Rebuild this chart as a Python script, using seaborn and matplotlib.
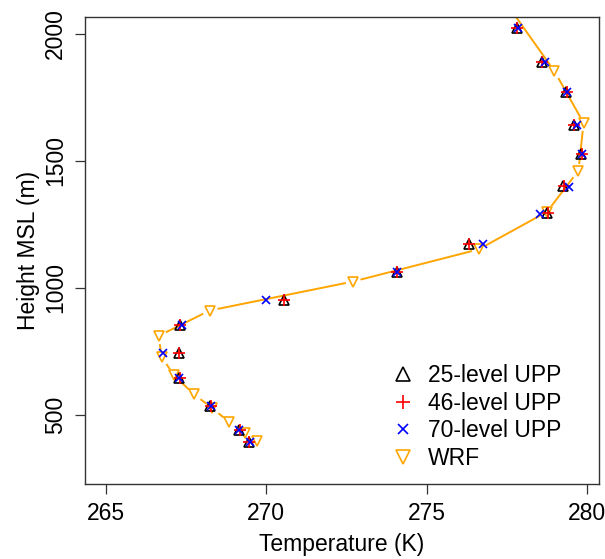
import matplotlib
matplotlib.use("Agg")
import matplotlib.pyplot as plt
import seaborn as sns

# Vertical temperature profiles (K) vs height MSL (m)
h_upp = [2022, 1891, 1773, 1642, 1528, 1403, 1294, 1173, 1064, 953, 854, 743, 644, 535, 441, 395]
t_25 = [277.81, 278.59, 279.35, 279.58, 279.82, 279.25, 278.75, 276.31, 274.07,
        270.56, 267.32, 267.29, 267.29, 268.26, 269.17, 269.47]
t_46 = [277.83, 278.60, 279.36, 279.60, 279.83, 279.27, 278.77, 276.33, 274.08,
        270.57, 267.33, 267.30, 267.31, 268.27, 269.18, 269.48]
h_70 = [2022, 1891, 1773, 1642, 1528, 1398, 1291, 1173, 1064, 953, 854, 743, 644, 535, 441, 395]
t_70 = [277.85, 278.70, 279.36, 279.70, 279.85, 279.45, 278.54, 276.77, 274.07,
        270.00, 267.38, 266.80, 267.30, 268.28, 269.17, 269.50]
h_wrf = [2100, 1854, 1650, 1462, 1300, 1152, 1025, 911, 811, 729, 657, 583, 528, 474, 428, 399]
t_wrf = [277.60, 278.98, 279.89, 279.73, 278.75, 276.62, 272.70, 268.24, 266.65,
         266.75, 267.12, 267.74, 268.31, 268.83, 269.35, 269.73]

labels = ["25-level UPP", "46-level UPP", "70-level UPP", "WRF"]

sns.set_style("ticks")
plt.rcParams["font.family"] = ["Liberation Sans", "DejaVu Sans"]
plt.rcParams["text.color"] = "black"
plt.rcParams["axes.labelcolor"] = "black"
plt.rcParams["xtick.color"] = "black"
plt.rcParams["ytick.color"] = "black"
fs = 16.5

fig = plt.figure(figsize=(6.05, 5.59), dpi=100)
ax = fig.add_axes([85 / 605, 1 - 484 / 559, 514 / 605, 467 / 559])

orange = "#FFA500"

# WRF line with gaps around its markers (like R type="b")
sns.lineplot(x=t_wrf, y=h_wrf, sort=False, estimator=None, color=orange,
             linewidth=1.4, ax=ax, legend=False, zorder=2)
sns.lineplot(x=t_wrf, y=h_wrf, sort=False, estimator=None, linestyle="",
             marker="o", markersize=11, markerfacecolor="white",
             markeredgecolor="white", markeredgewidth=0, ax=ax, legend=False, zorder=2.1)
sns.lineplot(x=t_wrf, y=h_wrf, sort=False, estimator=None, linestyle="",
             marker="v", markersize=7.5, markerfacecolor="none",
             markeredgecolor=orange, markeredgewidth=1.2, ax=ax, legend=False, zorder=2.2)
wrf_art = ax.lines[-1]

sns.lineplot(x=t_25, y=h_upp, sort=False, estimator=None, linestyle="",
             marker="^", markersize=7.5, markerfacecolor="none",
             markeredgecolor="black", markeredgewidth=1.2, ax=ax, legend=False, zorder=3)
a25 = ax.lines[-1]
sns.lineplot(x=t_46, y=h_upp, sort=False, estimator=None, linestyle="",
             marker="+", markersize=8, markeredgecolor="red",
             markeredgewidth=1.2, ax=ax, legend=False, zorder=3.1)
a46 = ax.lines[-1]
sns.lineplot(x=t_70, y=h_70, sort=False, estimator=None, linestyle="",
             marker="x", markersize=6, markeredgecolor="blue",
             markeredgewidth=1.2, ax=ax, legend=False, zorder=3.2)
a70 = ax.lines[-1]

ax.set_xlim(264.36, 280.37)
ax.set_ylim(228, 2067)
ax.set_xticks([265, 270, 275, 280])
ax.set_yticks([500, 1000, 1500, 2000])
ax.tick_params(axis="both", labelsize=fs, length=7, width=0.9, color="#333333", pad=6)
for lab in ax.get_yticklabels():
    lab.set_rotation(90)
    lab.set_va("center")
for sp in ax.spines.values():
    sp.set_visible(True)
    sp.set_color("#333333")
    sp.set_linewidth(1.0)

ax.set_xlabel("Temperature (K)", fontsize=fs, labelpad=6)
ax.set_ylabel("Height MSL (m)", fontsize=fs, labelpad=3)

ax.legend([a25, a46, a70, wrf_art], labels, loc="upper left",
          bbox_to_anchor=(0.591, 0.257), frameon=False, fontsize=fs,
          handlelength=1.2, handletextpad=0.5, labelspacing=0.2,
          borderpad=0, borderaxespad=0, markerscale=1.3)

fig.savefig("out.png", dpi=100, facecolor="white")
